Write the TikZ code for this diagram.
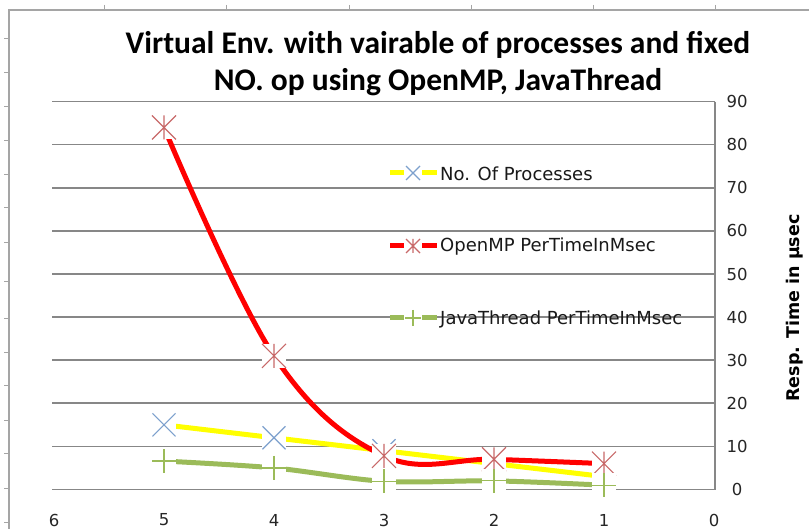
\documentclass[tikz,border=0pt]{standalone}
\usepackage{fontspec}
\setmainfont{DejaVu Sans}
\newfontfamily\titlefont{Carlito}
\definecolor{framegray}{RGB}{165,165,165}
\definecolor{gridgray}{RGB}{135,135,135}
\definecolor{xblue}{RGB}{125,160,205}
\definecolor{astred}{RGB}{200,105,105}
\definecolor{lgreen}{RGB}{155,187,89}
\definecolor{ylw}{RGB}{255,255,0}
\begin{document}
\begin{tikzpicture}[x=1pt,y=-1pt,
  gridline/.style={draw=gridgray,line width=1.6pt},
  ticknum/.style={font=\fontsize{16.5}{18}\selectfont,text=black!85,inner sep=0pt},
  legtext/.style={font=\fontsize{18}{20}\selectfont,text=black!90,anchor=west,inner sep=0pt},
  serieline/.style={line width=5pt,line cap=butt,line join=round},
  mkline/.style={line width=1.2pt,line cap=butt}]
\newcommand\wbox[2]{\fill[white] (#1) ++(-#2,-#2) rectangle ++(2*#2,2*#2);}
\newcommand\mkcross[3]{\wbox{#1}{#2}\draw[mkline,xblue] (#1) ++(-#3,-#3) -- ++(2*#3,2*#3) (#1) ++(-#3,#3) -- ++(2*#3,-2*#3);}
\newcommand\mkstar[3]{\wbox{#1}{#2}\draw[mkline,astred] (#1) ++(-#3,-#3) -- ++(2*#3,2*#3) (#1) ++(-#3,#3) -- ++(2*#3,-2*#3) (#1) ++(0,-#3) -- ++(0,2*#3);}
\newcommand\mkplus[3]{\wbox{#1}{#2}\draw[mkline,lgreen] (#1) ++(-#3,0) -- ++(2*#3,0) (#1) ++(0,-#3) -- ++(0,2*#3);}
\useasboundingbox (0,0) rectangle (809,529);
\fill[white] (0,0) rectangle (809,529);
% outer frame of the sheet
\draw[framegray,line width=1.5pt] (9,529) -- (9,10) -- (809,10);
\foreach \yy in {39,73,107,141,175,208,243,282,319,353,386,420,453,488,522}
  \draw[framegray,line width=1pt] (4,\yy) -- (9,\yy);
\foreach \xx in {104,226,349,471,593,715}
  \draw[framegray,line width=1pt] (\xx,5) -- (\xx,10);
% title
\node[font=\titlefont\bfseries\fontsize{31.5}{36}\selectfont,inner sep=0pt,align=center] (title1) at (438,45) {Virtual Env. with vairable of processes and fixed};
\node[font=\titlefont\bfseries\fontsize{31.5}{36}\selectfont,inner sep=0pt,align=center] (title2) at (438,82) {NO. op using OpenMP, JavaThread};
% grid and right axis
\foreach \v in {0,...,9} {
  \draw[gridline] (52,{489.5-43.1*\v}) -- (715,{489.5-43.1*\v});
  \node[ticknum] (yl\v) at (737,{489.5-43.1*\v}) {\the\numexpr\v*10\relax};
}
\draw[gridline] (715,101.6) -- (715,489.5);
\foreach \v in {0,...,6}
  \node[ticknum] (xl\v) at ({714-110*\v},520) {\v};
\node[font=\bfseries\fontsize{17.5}{20}\selectfont,rotate=90,inner sep=0pt] (ytitle) at (795,308) {Resp. Time in μsec};
% data points
\foreach \n/\a/\b/\c in {5/15/84/6.6,4/12/31/5.0,3/9/7.8/1.9,2/6/7.0/2.0,1/3/6.0/1.0} {
  \coordinate (y\n) at ({714-110*\n},{489.5-4.31*\a});
  \coordinate (r\n) at ({714-110*\n},{489.5-4.31*\b});
  \coordinate (g\n) at ({714-110*\n},{489.5-4.31*\c});
}
% series 1
\draw[serieline,ylw] (y5) -- (y4) -- (y3) -- (y2) -- (y1);
\foreach \n in {5,4,3,2,1} {\mkcross{y\n}{12}{11.5}}
% series 2
\draw[serieline,red] plot[smooth,tension=0.62] coordinates {(r5) (r4) (r3) (r2) (r1)};
\foreach \n in {5,4,3,2,1} {\mkstar{r\n}{12}{12}}
% series 3
\draw[serieline,lgreen] plot[smooth,tension=0.55] coordinates {(g5) (g4) (g3) (g2) (g1)};
\foreach \n in {5,4,3,2,1} {\mkplus{g\n}{12}{12}}
% legend
\coordinate (la) at (413,173);
\coordinate (lb) at (413,246);
\coordinate (lc) at (413,318);
\draw[serieline,ylw] (390,173) -- (437,173);
\mkcross{la}{9}{7}
\draw[serieline,red] (390,246) -- (437,246);
\mkstar{lb}{9}{7}
\draw[serieline,lgreen] (390,318) -- (437,318);
\mkplus{lc}{9}{8}
\node[legtext] (ta) at (440,174) {No. Of Processes};
\node[legtext] (tb) at (440,247) {OpenMP PerTimeInMsec};
\node[legtext] (tc) at (440,319) {JavaThread PerTimeInMsec};
\end{tikzpicture}
\end{document}
